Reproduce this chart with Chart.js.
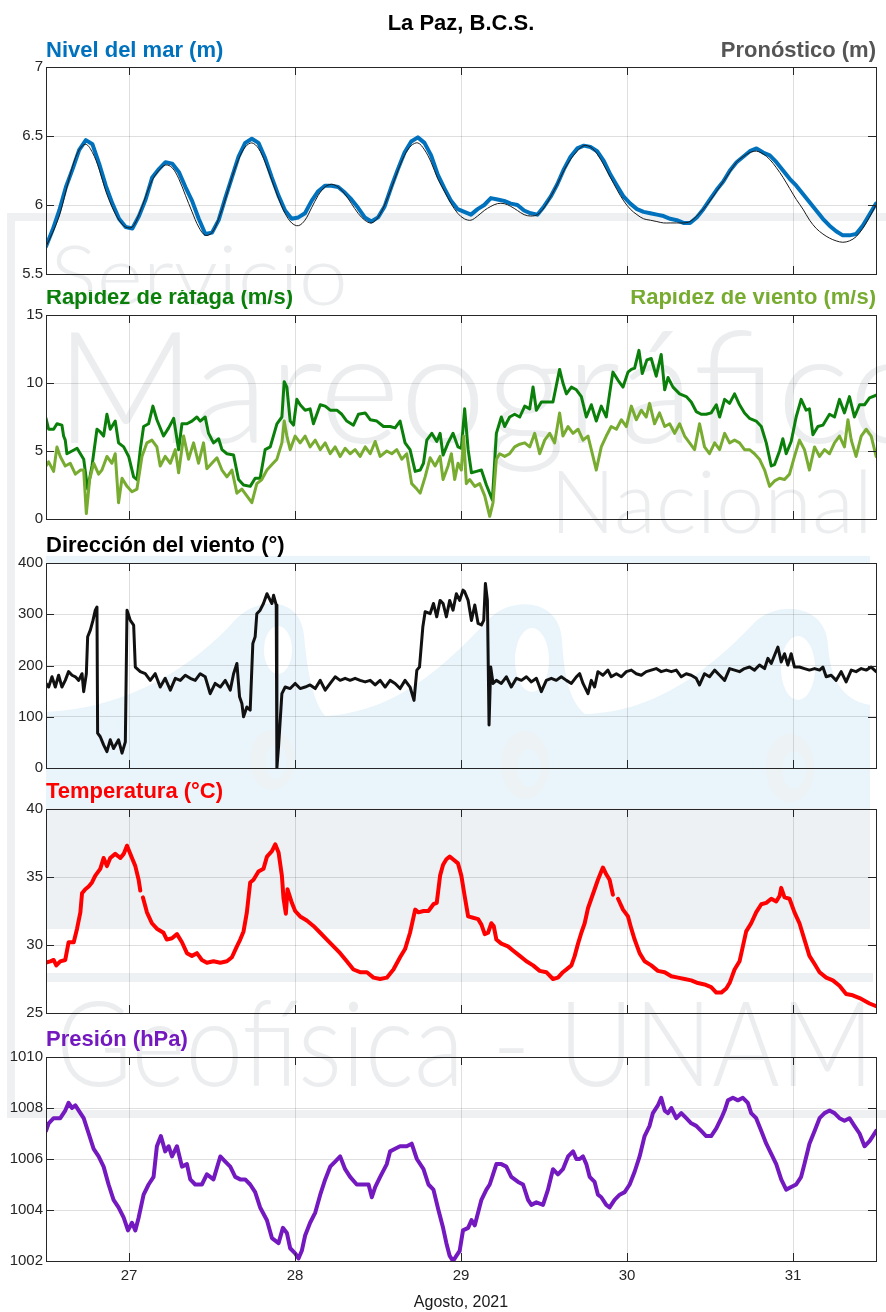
<!DOCTYPE html>
<html>
<head>
<meta charset="utf-8">
<script src="https://cdn.jsdelivr.net/npm/chart.js@4.4.1/dist/chart.umd.min.js"></script>
<style>
  html, body { margin: 0; padding: 0; background: #ffffff; }
  #wrap { position: relative; width: 886px; height: 1312px; overflow: hidden; }
  #wrap canvas { position: absolute; left: 0; }
</style>
</head>
<body>
<div id="wrap">
  <canvas id="bg" width="886" height="1312" style="top:0"></canvas>
  <canvas id="c1"></canvas>
  <canvas id="c2"></canvas>
  <canvas id="c3"></canvas>
  <canvas id="c4"></canvas>
  <canvas id="c5"></canvas>
</div>
<script>
// ---------- axis ticks ----------
const dayTicks = [27, 28, 29, 30, 31];
const dayTickLabels = ['27', '28', '29', '30', '31'];
const seaTicks = [5.5, 6, 6.5, 7];
const seaTickLabels = ['5.5', '6', '6.5', '7'];
const windTicks = [0, 5, 10, 15];
const windTickLabels = ['0', '5', '10', '15'];
const dirTicks = [0, 100, 200, 300, 400];
const dirTickLabels = ['0', '100', '200', '300', '400'];
const tempTicks = [25, 30, 35, 40];
const tempTickLabels = ['25', '30', '35', '40'];
const presTicks = [1002, 1004, 1006, 1008, 1010];
const presTickLabels = ['1002', '1004', '1006', '1008', '1010'];

// ---------- sea level (m), samples from 26 Aug 12:00, every 0.04 day ----------
const seaStart = 26.5;
const seaStep = 0.04;
const seaObserved = [
  5.70,5.82,5.96,6.13,6.26,6.40,6.47,6.44,6.30,6.14,
  6.01,5.90,5.84,5.83,5.92,6.04,6.20,6.26,6.31,6.30,
  6.24,6.13,6.03,5.90,5.79,5.80,5.89,6.05,6.20,6.35,
  6.45,6.48,6.45,6.34,6.20,6.07,5.96,5.90,5.91,5.94,
  6.03,6.10,6.14,6.14,6.13,6.09,6.04,5.98,5.91,5.88,
  5.91,5.99,6.13,6.26,6.38,6.46,6.49,6.45,6.36,6.22,
  6.12,6.03,5.97,5.95,5.93,5.97,6.00,6.05,6.04,6.03,
  6.01,6.00,5.96,5.94,5.93,5.99,6.06,6.15,6.26,6.35,
  6.41,6.43,6.42,6.39,6.32,6.22,6.14,6.06,6.01,5.97,
  5.95,5.94,5.93,5.92,5.90,5.89,5.87,5.87,5.91,5.97,
  6.04,6.11,6.17,6.25,6.31,6.35,6.39,6.41,6.38,6.36,
  6.31,6.25,6.19,6.14,6.08,6.02,5.96,5.90,5.85,5.81,
  5.78,5.78,5.79,5.85,5.93,6.01
];
const seaForecast = [
  5.70,5.80,5.92,6.10,6.28,6.40,6.44,6.38,6.26,6.10,
  5.98,5.89,5.84,5.84,5.93,6.06,6.18,6.25,6.29,6.27,
  6.19,6.07,5.95,5.84,5.78,5.80,5.90,6.04,6.20,6.33,
  6.42,6.45,6.41,6.31,6.18,6.05,5.94,5.87,5.85,5.89,
  5.98,6.07,6.13,6.15,6.13,6.08,6.01,5.94,5.89,5.87,
  5.91,6.00,6.12,6.25,6.36,6.43,6.45,6.40,6.31,6.19,
  6.10,6.01,5.94,5.90,5.89,5.92,5.96,5.99,6.01,6.01,
  5.99,5.96,5.93,5.92,5.93,5.98,6.06,6.15,6.25,6.33,
  6.39,6.43,6.42,6.37,6.29,6.20,6.11,6.03,5.97,5.93,
  5.90,5.89,5.88,5.87,5.87,5.87,5.87,5.88,5.92,5.97,
  6.03,6.10,6.17,6.24,6.31,6.35,6.38,6.39,6.37,6.33,
  6.27,6.20,6.12,6.04,5.97,5.89,5.83,5.79,5.76,5.74,
  5.73,5.74,5.77,5.83,5.91,6.00
];

// ---------- gust speed (m/s): [day, value] ----------
const gust = [
  [26.500,7.4],[26.516,6.6],[26.546,6.6],[26.566,7.0],[26.596,6.9],[26.606,6.1],[26.616,5.8],[26.626,4.8],
  [26.657,5.0],[26.687,5.2],[26.727,4.4],[26.751,2.2],[26.777,3.9],[26.807,6.6],[26.827,6.4],[26.847,6.1],
  [26.867,7.7],[26.887,6.6],[26.917,7.2],[26.937,5.6],[26.968,5.3],[26.998,4.6],[27.028,3.1],[27.048,2.9],
  [27.068,5.1],[27.088,6.8],[27.118,7.0],[27.144,8.3],[27.168,7.3],[27.208,6.1],[27.239,6.7],[27.269,7.4],
  [27.299,5.1],[27.319,7.0],[27.349,7.0],[27.379,7.2],[27.409,7.5],[27.429,7.2],[27.459,7.5],[27.479,6.3],
  [27.509,5.6],[27.540,5.9],[27.560,5.1],[27.590,4.8],[27.630,4.7],[27.660,2.9],[27.690,2.5],[27.730,2.4],
  [27.760,3.0],[27.790,3.0],[27.820,5.1],[27.851,5.3],[27.891,7.0],[27.921,7.5],[27.935,10.1],[27.951,9.7],
  [27.971,7.2],[27.991,6.9],[28.011,8.8],[28.031,8.4],[28.061,8.0],[28.091,8.1],[28.111,7.0],[28.152,8.4],
  [28.182,8.3],[28.212,8.0],[28.252,8.0],[28.282,7.7],[28.312,7.2],[28.352,6.9],[28.382,7.7],[28.423,7.8],
  [28.453,7.3],[28.493,7.2],[28.533,6.8],[28.573,6.8],[28.603,6.7],[28.633,7.2],[28.663,5.6],[28.693,5.1],
  [28.724,3.5],[28.754,3.6],[28.774,4.1],[28.794,5.8],[28.824,6.3],[28.854,5.7],[28.874,6.3],[28.892,4.7],
  [28.922,5.6],[28.952,6.3],[28.982,5.3],[29.002,5.2],[29.022,8.1],[29.043,5.1],[29.063,3.4],[29.093,3.5],
  [29.123,3.6],[29.153,2.5],[29.189,1.4],[29.213,6.3],[29.243,7.5],[29.263,6.8],[29.293,7.5],[29.323,7.7],
  [29.354,7.5],[29.384,8.3],[29.414,8.1],[29.434,9.7],[29.454,8.0],[29.484,8.6],[29.514,8.6],[29.554,8.6],
  [29.594,11.0],[29.614,10.0],[29.635,9.2],[29.665,9.7],[29.695,9.5],[29.725,9.0],[29.755,7.5],[29.785,8.4],
  [29.815,7.2],[29.845,8.3],[29.875,7.5],[29.895,9.2],[29.915,10.8],[29.946,10.2],[29.976,9.7],[30.006,10.8],
  [30.026,11.0],[30.046,11.1],[30.072,12.4],[30.092,10.7],[30.120,11.7],[30.146,11.8],[30.176,10.5],[30.206,12.1],
  [30.227,9.5],[30.247,10.4],[30.277,9.7],[30.317,9.2],[30.357,9.0],[30.387,8.6],[30.417,7.9],[30.447,7.7],
  [30.477,7.7],[30.507,7.8],[30.538,8.4],[30.558,7.5],[30.588,8.8],[30.618,8.5],[30.648,9.2],[30.678,8.4],
  [30.708,7.8],[30.738,7.4],[30.778,7.2],[30.809,6.8],[30.839,5.6],[30.869,3.9],[30.889,4.0],[30.919,5.0],
  [30.939,5.9],[30.959,4.8],[30.989,5.7],[31.019,7.5],[31.049,8.8],[31.079,8.0],[31.099,8.1],[31.120,6.2],
  [31.150,6.8],[31.180,6.9],[31.220,7.7],[31.250,7.5],[31.280,8.8],[31.310,7.8],[31.340,9.0],[31.370,7.5],
  [31.401,8.4],[31.431,8.4],[31.461,8.9],[31.501,9.1]
];

// ---------- mean wind speed (m/s): [day, value] ----------
const wind = [
  [26.500,3.9],[26.516,4.2],[26.546,3.5],[26.566,5.3],[26.586,4.6],[26.616,3.9],[26.646,4.1],[26.677,3.3],
  [26.707,3.6],[26.727,3.6],[26.743,0.4],[26.763,2.9],[26.787,4.1],[26.817,3.3],[26.837,3.6],[26.867,4.6],
  [26.897,4.1],[26.917,4.8],[26.937,1.2],[26.958,3.0],[26.988,2.4],[27.018,2.0],[27.048,2.2],[27.078,4.6],
  [27.108,5.6],[27.138,5.8],[27.168,5.3],[27.188,3.9],[27.218,4.6],[27.249,4.1],[27.279,5.1],[27.299,3.4],
  [27.329,6.1],[27.359,4.4],[27.389,5.6],[27.419,4.1],[27.449,5.6],[27.469,3.7],[27.499,4.1],[27.530,4.5],
  [27.560,3.6],[27.590,3.1],[27.620,3.6],[27.650,1.9],[27.680,2.2],[27.710,1.7],[27.740,1.2],[27.770,2.6],
  [27.800,2.9],[27.831,3.6],[27.861,4.0],[27.891,4.4],[27.921,5.6],[27.935,7.2],[27.951,6.1],[27.971,5.1],
  [28.001,6.1],[28.031,5.6],[28.061,6.1],[28.091,5.3],[28.122,5.8],[28.152,5.1],[28.182,5.6],[28.212,4.8],
  [28.242,5.3],[28.272,4.6],[28.302,5.2],[28.332,4.8],[28.362,5.1],[28.392,4.6],[28.423,5.3],[28.453,4.8],
  [28.483,5.7],[28.513,4.6],[28.553,5.0],[28.583,4.8],[28.613,5.1],[28.643,4.4],[28.673,4.8],[28.703,2.6],
  [28.734,2.2],[28.754,1.9],[28.784,3.1],[28.814,4.5],[28.844,3.9],[28.874,4.6],[28.892,2.9],[28.922,3.9],
  [28.942,4.8],[28.962,2.9],[28.982,4.1],[29.002,3.6],[29.016,6.1],[29.032,2.6],[29.053,2.9],[29.083,2.4],
  [29.113,2.6],[29.143,1.7],[29.173,0.2],[29.193,1.2],[29.213,4.4],[29.233,4.8],[29.263,4.6],[29.293,4.8],
  [29.323,5.3],[29.354,5.5],[29.384,5.6],[29.414,5.3],[29.444,6.3],[29.474,4.8],[29.504,5.8],[29.534,6.3],
  [29.564,5.6],[29.594,7.8],[29.614,6.1],[29.645,6.8],[29.675,6.3],[29.705,6.6],[29.735,5.8],[29.765,6.1],
  [29.795,4.6],[29.815,3.6],[29.845,5.3],[29.875,6.1],[29.905,6.8],[29.936,6.6],[29.966,7.3],[29.996,6.8],
  [30.026,8.3],[30.056,7.3],[30.086,8.0],[30.116,7.5],[30.136,8.5],[30.166,7.0],[30.196,7.8],[30.227,6.8],
  [30.257,7.0],[30.287,6.3],[30.317,7.0],[30.347,6.1],[30.377,5.6],[30.407,5.1],[30.437,7.0],[30.467,5.3],
  [30.497,4.8],[30.528,5.6],[30.558,5.1],[30.588,6.3],[30.618,5.6],[30.648,5.8],[30.678,5.6],[30.708,5.1],
  [30.738,5.1],[30.768,4.8],[30.798,4.4],[30.829,3.6],[30.859,2.4],[30.889,2.8],[30.919,3.0],[30.949,2.9],
  [30.979,3.3],[31.009,4.6],[31.039,5.8],[31.069,5.1],[31.099,3.6],[31.130,5.3],[31.160,4.6],[31.190,5.1],
  [31.220,4.8],[31.250,5.6],[31.280,6.1],[31.310,5.3],[31.331,7.3],[31.351,5.8],[31.380,4.6],[31.411,6.1],
  [31.441,6.6],[31.471,6.1],[31.501,4.6]
];

// ---------- wind direction (degrees): [day, value] ----------
const direction = [
  [26.500,165],[26.516,158],[26.536,178],[26.556,158],[26.576,181],[26.596,158],[26.616,171],[26.636,188],
  [26.657,181],[26.677,178],[26.697,171],[26.717,184],[26.727,149],[26.743,184],[26.751,256],[26.767,269],
  [26.783,288],[26.797,308],[26.807,314],[26.811,68],[26.827,61],[26.847,45],[26.867,32],[26.887,55],
  [26.907,38],[26.937,55],[26.958,29],[26.978,51],[26.988,308],[27.008,288],[27.028,279],[27.038,197],
  [27.068,188],[27.098,184],[27.128,171],[27.158,184],[27.188,158],[27.218,175],[27.249,152],[27.279,175],
  [27.309,171],[27.339,181],[27.369,175],[27.399,171],[27.429,184],[27.459,178],[27.489,145],[27.519,165],
  [27.550,158],[27.580,171],[27.610,152],[27.630,184],[27.650,204],[27.666,139],[27.680,126],[27.690,100],
  [27.710,119],[27.730,113],[27.746,243],[27.760,256],[27.770,301],[27.790,308],[27.810,321],[27.831,340],
  [27.851,327],[27.861,321],[27.871,337],[27.887,318],[27.891,0],[27.901,42],[27.921,145],[27.941,158],
  [27.971,155],[28.001,165],[28.031,155],[28.061,158],[28.091,162],[28.122,155],[28.152,171],[28.182,152],
  [28.212,165],[28.242,178],[28.272,171],[28.302,175],[28.332,171],[28.362,175],[28.392,171],[28.423,168],
  [28.453,171],[28.483,162],[28.513,171],[28.543,158],[28.573,171],[28.603,165],[28.633,155],[28.663,171],
  [28.693,158],[28.717,132],[28.734,191],[28.750,197],[28.770,275],[28.784,305],[28.814,301],[28.834,321],
  [28.854,295],[28.874,327],[28.892,321],[28.912,295],[28.932,327],[28.952,308],[28.972,340],[28.992,327],
  [29.012,347],[29.022,344],[29.043,327],[29.063,288],[29.083,318],[29.103,282],[29.123,279],[29.137,288],
  [29.147,360],[29.159,327],[29.169,84],[29.179,197],[29.193,165],[29.213,171],[29.243,165],[29.273,178],
  [29.303,158],[29.334,175],[29.364,171],[29.394,178],[29.424,168],[29.454,175],[29.484,149],[29.514,171],
  [29.544,175],[29.574,171],[29.604,178],[29.635,171],[29.665,165],[29.695,178],[29.715,184],[29.735,165],
  [29.765,145],[29.785,171],[29.805,158],[29.825,188],[29.855,181],[29.885,191],[29.905,178],[29.936,184],
  [29.966,178],[29.996,188],[30.026,191],[30.056,184],[30.086,181],[30.116,188],[30.146,191],[30.176,194],
  [30.206,188],[30.237,191],[30.267,188],[30.297,191],[30.327,178],[30.357,184],[30.387,181],[30.417,175],
  [30.437,162],[30.467,184],[30.497,178],[30.528,191],[30.558,181],[30.588,171],[30.618,194],[30.648,191],
  [30.678,188],[30.708,194],[30.738,197],[30.768,191],[30.798,201],[30.829,194],[30.849,214],[30.869,204],
  [30.889,220],[30.909,236],[30.929,207],[30.949,223],[30.969,201],[30.989,223],[31.009,197],[31.039,197],
  [31.069,194],[31.099,191],[31.130,194],[31.160,191],[31.180,197],[31.200,178],[31.230,181],[31.260,171],
  [31.290,188],[31.320,168],[31.351,191],[31.380,188],[31.411,194],[31.441,191],[31.471,197],[31.501,188]
];

// ---------- air temperature (°C): [day, value]; null marks a gap in the record ----------
const temperature = [
  [26.500,28.7],[26.526,28.8],[26.546,28.9],[26.562,28.5],[26.586,28.8],[26.616,28.9],[26.636,30.2],[26.667,30.2],
  [26.687,31.2],[26.707,32.4],[26.717,33.8],[26.737,34.1],[26.757,34.3],[26.777,34.6],[26.797,35.1],[26.827,35.6],
  [26.847,36.4],[26.867,35.8],[26.887,36.4],[26.917,36.7],[26.948,36.4],[26.968,36.7],[26.988,37.3],[27.018,36.4],
  [27.038,35.8],[27.058,34.8],[27.068,34.0],[27.076,null],[27.084,33.5],[27.108,32.4],[27.138,31.6],[27.168,31.2],
  [27.208,30.9],[27.228,30.4],[27.259,30.5],[27.289,30.8],[27.319,30.2],[27.349,29.4],[27.379,29.2],[27.409,29.4],
  [27.439,28.9],[27.469,28.7],[27.509,28.8],[27.550,28.7],[27.590,28.8],[27.620,29.1],[27.650,29.9],[27.670,30.4],
  [27.690,31.0],[27.710,32.4],[27.730,34.6],[27.750,34.8],[27.780,35.4],[27.810,35.6],[27.831,36.5],[27.861,36.9],
  [27.881,37.4],[27.901,36.8],[27.921,35.1],[27.931,33.4],[27.945,32.3],[27.955,34.1],[27.981,33.1],[28.001,32.5],
  [28.031,32.1],[28.071,31.8],[28.111,31.4],[28.152,30.9],[28.192,30.4],[28.232,29.9],[28.272,29.4],[28.312,28.8],
  [28.352,28.2],[28.392,28.0],[28.433,28.0],[28.473,27.6],[28.513,27.5],[28.553,27.6],[28.593,28.2],[28.633,29.1],
  [28.663,29.7],[28.693,30.9],[28.724,32.6],[28.744,32.4],[28.774,32.5],[28.804,32.5],[28.834,33.0],[28.854,33.1],
  [28.874,35.1],[28.892,35.9],[28.912,36.3],[28.932,36.5],[28.952,36.3],[28.982,36.0],[29.002,35.1],[29.022,33.6],
  [29.043,32.1],[29.073,32.0],[29.103,31.9],[29.123,31.5],[29.143,30.8],[29.163,30.9],[29.183,31.6],[29.197,31.4],
  [29.213,30.4],[29.243,30.1],[29.283,29.9],[29.313,29.6],[29.354,29.2],[29.394,28.8],[29.434,28.5],[29.474,28.1],
  [29.514,28.0],[29.554,27.5],[29.584,27.6],[29.614,28.0],[29.645,28.3],[29.665,28.5],[29.685,29.2],[29.705,30.1],
  [29.725,30.9],[29.745,31.6],[29.765,32.7],[29.785,33.4],[29.805,34.1],[29.825,34.8],[29.845,35.4],[29.855,35.7],
  [29.875,35.2],[29.895,34.8],[29.915,33.7],[29.928,null],[29.946,33.4],[29.976,32.6],[30.006,32.1],[30.026,31.2],
  [30.046,30.4],[30.076,29.4],[30.106,28.8],[30.146,28.5],[30.186,28.1],[30.227,28.0],[30.267,27.7],[30.307,27.6],
  [30.347,27.5],[30.387,27.4],[30.427,27.2],[30.467,27.1],[30.507,26.9],[30.538,26.5],[30.568,26.5],[30.598,26.8],
  [30.618,27.2],[30.648,28.2],[30.678,28.8],[30.698,29.9],[30.718,31.0],[30.748,31.6],[30.778,32.4],[30.809,33.0],
  [30.839,33.1],[30.869,33.4],[30.899,33.2],[30.919,33.6],[30.929,34.2],[30.949,33.5],[30.979,33.4],[31.009,32.4],
  [31.039,31.6],[31.069,30.4],[31.099,29.2],[31.130,28.6],[31.160,28.0],[31.200,27.6],[31.240,27.4],[31.280,27.0],
  [31.320,26.4],[31.360,26.3],[31.401,26.1],[31.431,25.9],[31.461,25.7],[31.501,25.5]
];

// ---------- atmospheric pressure (hPa): [day, value] ----------
const pressure = [
  [26.500,1007.1],[26.516,1007.4],[26.546,1007.6],[26.586,1007.6],[26.616,1007.9],[26.636,1008.2],[26.657,1008.0],[26.677,1008.1],
  [26.707,1007.8],[26.727,1007.6],[26.757,1007.0],[26.787,1006.4],[26.817,1006.1],[26.847,1005.7],[26.877,1005.0],[26.907,1004.4],
  [26.937,1004.1],[26.968,1003.7],[26.994,1003.2],[27.018,1003.5],[27.038,1003.2],[27.058,1003.7],[27.088,1004.6],[27.118,1005.0],
  [27.148,1005.3],[27.168,1006.5],[27.192,1006.9],[27.218,1006.3],[27.239,1006.5],[27.259,1006.1],[27.289,1006.5],[27.319,1005.7],
  [27.349,1005.8],[27.369,1005.2],[27.399,1005.0],[27.439,1005.0],[27.469,1005.4],[27.509,1005.2],[27.550,1006.1],[27.580,1005.9],
  [27.610,1005.7],[27.640,1005.3],[27.670,1005.2],[27.700,1005.2],[27.730,1005.0],[27.760,1004.7],[27.790,1004.1],[27.831,1003.6],
  [27.861,1002.9],[27.901,1002.7],[27.927,1003.3],[27.951,1003.1],[27.971,1002.5],[28.001,1002.3],[28.021,1002.1],[28.041,1002.4],
  [28.061,1003.0],[28.091,1003.5],[28.122,1003.9],[28.152,1004.6],[28.182,1005.2],[28.212,1005.7],[28.242,1005.9],[28.272,1006.1],
  [28.302,1005.6],[28.332,1005.3],[28.372,1005.0],[28.413,1005.0],[28.443,1005.0],[28.463,1004.5],[28.483,1004.9],[28.513,1005.3],
  [28.553,1005.8],[28.573,1006.3],[28.603,1006.4],[28.633,1006.5],[28.673,1006.5],[28.703,1006.6],[28.734,1006.0],[28.774,1005.6],
  [28.804,1005.0],[28.834,1004.8],[28.864,1004.0],[28.892,1003.3],[28.912,1002.7],[28.932,1002.2],[28.952,1002.0],[28.972,1002.2],
  [28.992,1002.4],[29.012,1003.2],[29.043,1003.3],[29.063,1003.6],[29.083,1003.4],[29.103,1003.9],[29.123,1004.4],[29.153,1004.8],
  [29.173,1005.0],[29.193,1005.4],[29.213,1005.8],[29.243,1005.8],[29.273,1005.7],[29.303,1005.3],[29.344,1005.1],[29.374,1005.0],
  [29.404,1004.4],[29.424,1004.2],[29.454,1004.3],[29.494,1004.2],[29.524,1004.8],[29.554,1005.6],[29.584,1005.4],[29.614,1005.6],
  [29.645,1006.1],[29.675,1006.3],[29.695,1006.0],[29.715,1006.0],[29.735,1006.1],[29.755,1005.8],[29.775,1005.3],[29.805,1005.1],
  [29.825,1004.6],[29.845,1004.5],[29.875,1004.2],[29.895,1004.1],[29.925,1004.4],[29.956,1004.6],[29.986,1004.7],[30.016,1005.0],
  [30.046,1005.5],[30.076,1006.1],[30.106,1006.9],[30.136,1007.3],[30.156,1007.8],[30.186,1008.1],[30.206,1008.4],[30.227,1007.9],
  [30.247,1007.8],[30.267,1008.0],[30.297,1007.6],[30.327,1007.8],[30.357,1007.6],[30.387,1007.4],[30.417,1007.3],[30.447,1007.1],
  [30.477,1006.9],[30.507,1006.9],[30.538,1007.2],[30.568,1007.6],[30.588,1007.9],[30.608,1008.3],[30.638,1008.4],[30.668,1008.3],
  [30.698,1008.4],[30.728,1008.2],[30.748,1007.8],[30.778,1007.6],[30.809,1007.1],[30.839,1006.6],[30.869,1006.2],[30.899,1005.8],
  [30.929,1005.2],[30.959,1004.8],[30.989,1004.9],[31.019,1005.0],[31.049,1005.3],[31.069,1005.8],[31.099,1006.6],[31.130,1007.1],
  [31.160,1007.6],[31.190,1007.8],[31.220,1007.9],[31.250,1007.8],[31.280,1007.6],[31.310,1007.5],[31.340,1007.6],[31.370,1007.3],
  [31.401,1007.0],[31.431,1006.5],[31.461,1006.7],[31.481,1006.9],[31.501,1007.1]
];

// ---------- styling ----------
const FONT = "'Liberation Sans', Arial, Helvetica, sans-serif";
const GRID = 'rgba(38,38,38,0.15)';
const AXIS = '#262626';
const TICK_TEXT = '#262626';
const C_SEA = '#0072BD';
const C_GUST = '#0A800A';
const C_WIND = '#77AC30';
const C_DIR = '#111111';
const C_TEMP = '#FF0000';
const C_PRES = '#7319BF';

// ---------- background logo / watermark ----------
(function drawWatermark() {
  const ctx = document.getElementById('bg').getContext('2d');
  // outer frame
  ctx.strokeStyle = '#eef0f2';
  ctx.lineWidth = 8;
  ctx.strokeRect(11, 217, 920, 897);

  // wave emblem
  const blue = '#eaf5fb';
  ctx.fillStyle = blue;
  ctx.fillRect(46, 556, 824, 7);
  ctx.beginPath();
  ctx.moveTo(46, 808);
  ctx.lineTo(46, 712);
  ctx.bezierCurveTo(130, 708, 195, 665, 235, 620);
  ctx.bezierCurveTo(258, 596, 300, 596, 304, 635);
  ctx.bezierCurveTo(307, 668, 312, 700, 325, 716);
  ctx.bezierCurveTo(400, 712, 450, 660, 490, 618);
  ctx.bezierCurveTo(512, 596, 560, 598, 562, 640);
  ctx.bezierCurveTo(564, 672, 568, 700, 585, 714);
  ctx.bezierCurveTo(660, 712, 715, 664, 755, 622);
  ctx.bezierCurveTo(778, 600, 826, 604, 828, 645);
  ctx.bezierCurveTo(830, 675, 840, 700, 870, 705);
  ctx.lineTo(870, 808);
  ctx.closePath();
  ctx.fill();
  ctx.fillStyle = '#ffffff';
  [[278, 650, 14, 24], [532, 660, 17, 32], [798, 668, 17, 32]].forEach(e => {
    ctx.beginPath();
    ctx.ellipse(e[0], e[1], e[2], e[3], 0, 0, Math.PI * 2);
    ctx.fill();
  });
  // lower, greyer wave row
  ctx.fillStyle = '#edf2f5';
  [[272, 760, 22, 30], [525, 765, 24, 34], [790, 768, 24, 34]].forEach(e => {
    ctx.beginPath();
    ctx.ellipse(e[0], e[1], e[2], e[3], 0, 0, Math.PI * 2);
    ctx.fill();
  });
  ctx.fillStyle = blue;
  [[276, 762, 11, 17], [529, 768, 12, 19], [794, 770, 12, 19]].forEach(e => {
    ctx.beginPath();
    ctx.ellipse(e[0], e[1], e[2], e[3], 0, 0, Math.PI * 2);
    ctx.fill();
  });
  // grey block and rule of the emblem
  ctx.fillStyle = '#edf1f4';
  ctx.fillRect(46, 808, 824, 121);
  ctx.fillRect(46, 973, 827, 9);

  // institution name
  ctx.fillStyle = '#ebedef';
  function fitText(text, x, baseline, capH, width) {
    const size = capH / 0.72;
    ctx.save();
    ctx.font = `300 ${size}px Lato, 'Open Sans', Roboto, sans-serif`;
    const w = ctx.measureText(text).width;
    ctx.translate(x, baseline);
    ctx.scale(width / w, 1);
    ctx.fillText(text, 0, 0);
    ctx.restore();
  }
  fitText('Servicio', 50, 305, 60, 298);
  fitText('Mareográfico', 55, 443, 113, 880);
  fitText('Nacional', 550, 533, 63, 323);
  fitText('Geofísica - UNAM', 56, 1086, 85, 818);
})();

// ---------- plugins ----------
const boxTicks = {
  id: 'boxTicks',
  afterDatasetsDraw(chart) {
    const { ctx, chartArea: a, scales } = chart;
    const L = 8;
    ctx.save();
    ctx.strokeStyle = AXIS;
    ctx.lineWidth = 1;
    ctx.beginPath();
    scales.x.ticks.forEach(t => {
      const px = Math.round(scales.x.getPixelForValue(t.value)) + 0.5;
      ctx.moveTo(px, a.top); ctx.lineTo(px, a.top + L);
      ctx.moveTo(px, a.bottom); ctx.lineTo(px, a.bottom - L);
    });
    scales.y.ticks.forEach(t => {
      const py = Math.round(scales.y.getPixelForValue(t.value)) + 0.5;
      ctx.moveTo(a.left, py); ctx.lineTo(a.left + L, py);
      ctx.moveTo(a.right, py); ctx.lineTo(a.right - L, py);
    });
    ctx.stroke();
    ctx.strokeRect(Math.round(a.left) + 0.5, Math.round(a.top) + 0.5,
                   Math.round(a.right - a.left), Math.round(a.bottom - a.top));
    ctx.restore();
  }
};

const panelText = {
  id: 'panelText',
  afterDraw(chart, args, opts) {
    const ctx = chart.ctx;
    (opts.items || []).forEach(it => {
      ctx.save();
      ctx.font = it.font;
      ctx.fillStyle = it.color;
      ctx.textAlign = it.align;
      ctx.textBaseline = 'alphabetic';
      ctx.fillText(it.text, it.x, it.y);
      ctx.restore();
    });
  }
};

const BOLD = `bold 22px ${FONT}`;

function series(pairs, color, width) {
  return {
    data: pairs.map(p => ({ x: p[0], y: p[1] })),
    borderColor: color,
    borderWidth: width,
    pointRadius: 0,
    tension: 0,
    spanGaps: false,
    fill: false,
    borderJoinStyle: 'round',
    borderCapStyle: 'round'
  };
}

function makePanel(cfg) {
  const cv = document.getElementById(cfg.id);
  cv.width = 886;
  cv.height = cfg.height;
  cv.style.top = cfg.top + 'px';
  const xAxisH = cfg.showX ? 40 : 0;
  const items = cfg.texts.map(t => Object.assign({}, t, { y: t.y - cfg.top }));
  return new Chart(cv, {
    type: 'line',
    data: { datasets: cfg.datasets },
    options: {
      responsive: false,
      animation: false,
      devicePixelRatio: 1,
      events: [],
      layout: {
        padding: {
          left: 0,
          right: 10,
          top: cfg.plotTop - cfg.top,
          bottom: cfg.top + cfg.height - cfg.plotBottom - xAxisH
        }
      },
      plugins: {
        legend: { display: false },
        tooltip: { enabled: false },
        panelText: { items }
      },
      scales: {
        x: {
          type: 'linear',
          min: 26.5,
          max: 31.5,
          afterBuildTicks: s => { s.ticks = dayTicks.map(v => ({ value: v })); },
          afterFit: s => { s.height = xAxisH; },
          grid: { color: GRID, lineWidth: 1, drawTicks: false },
          border: { display: false },
          ticks: {
            display: cfg.showX,
            autoSkip: false,
            maxRotation: 0,
            padding: 6,
            color: TICK_TEXT,
            font: { family: FONT, size: 15 },
            callback: (v, i) => dayTickLabels[i]
          }
        },
        y: {
          type: 'linear',
          min: cfg.yMin,
          max: cfg.yMax,
          afterBuildTicks: s => { s.ticks = cfg.yTicks.map(v => ({ value: v })); },
          afterFit: s => { s.width = 46; },
          grid: { color: GRID, lineWidth: 1, drawTicks: false },
          border: { display: false },
          ticks: {
            padding: 3,
            color: TICK_TEXT,
            font: { family: FONT, size: 15 },
            callback: (v, i) => cfg.yTickLabels[i]
          }
        }
      }
    },
    plugins: [boxTicks, panelText]
  });
}

// ---------- panels ----------
const seaTimes = seaObserved.map((_, k) => seaStart + k * seaStep);
const seaObsPairs = seaObserved.map((v, k) => [seaTimes[k], v]);
const seaFcPairs = seaForecast.map((v, k) => [seaTimes[k], v]);
const forecastSet = series(seaFcPairs, '#1a1a1a', 1);
forecastSet.tension = 0.35;

makePanel({
  id: 'c1', top: 0, height: 290, plotTop: 67, plotBottom: 274,
  yMin: 5.5, yMax: 7, yTicks: seaTicks, yTickLabels: seaTickLabels,
  datasets: [forecastSet, series(seaObsPairs, C_SEA, 4)],
  texts: [
    { text: 'La Paz, B.C.S.', x: 461, y: 29.5, align: 'center', color: '#000000', font: BOLD },
    { text: 'Nivel del mar (m)', x: 46, y: 56.5, align: 'left', color: C_SEA, font: BOLD },
    { text: 'Pronóstico (m)', x: 876, y: 56.5, align: 'right', color: '#555555', font: BOLD }
  ]
});

makePanel({
  id: 'c2', top: 290, height: 245, plotTop: 315, plotBottom: 519,
  yMin: 0, yMax: 15, yTicks: windTicks, yTickLabels: windTickLabels,
  datasets: [series(wind, C_WIND, 3), series(gust, C_GUST, 3)],
  texts: [
    { text: 'Rapidez de ráfaga (m/s)', x: 46, y: 304, align: 'left', color: C_GUST, font: BOLD },
    { text: 'Rapidez de viento (m/s)', x: 876, y: 304, align: 'right', color: C_WIND, font: BOLD }
  ]
});

makePanel({
  id: 'c3', top: 535, height: 245, plotTop: 563, plotBottom: 768,
  yMin: 0, yMax: 400, yTicks: dirTicks, yTickLabels: dirTickLabels,
  datasets: [series(direction, C_DIR, 3)],
  texts: [
    { text: 'Dirección del viento (°)', x: 46, y: 552, align: 'left', color: '#000000', font: BOLD }
  ]
});

makePanel({
  id: 'c4', top: 780, height: 245, plotTop: 809, plotBottom: 1014,
  yMin: 25, yMax: 40, yTicks: tempTicks, yTickLabels: tempTickLabels,
  datasets: [series(temperature, C_TEMP, 4)],
  texts: [
    { text: 'Temperatura (°C)', x: 46, y: 797.5, align: 'left', color: C_TEMP, font: BOLD }
  ]
});

makePanel({
  id: 'c5', top: 1025, height: 287, plotTop: 1057, plotBottom: 1261, showX: true,
  yMin: 1002, yMax: 1010, yTicks: presTicks, yTickLabels: presTickLabels,
  datasets: [series(pressure, C_PRES, 4)],
  texts: [
    { text: 'Presión (hPa)', x: 46, y: 1045.5, align: 'left', color: C_PRES, font: BOLD },
    { text: 'Agosto, 2021', x: 461, y: 1307, align: 'center', color: '#1a1a1a', font: `16px ${FONT}` }
  ]
});
</script>
</body>
</html>
